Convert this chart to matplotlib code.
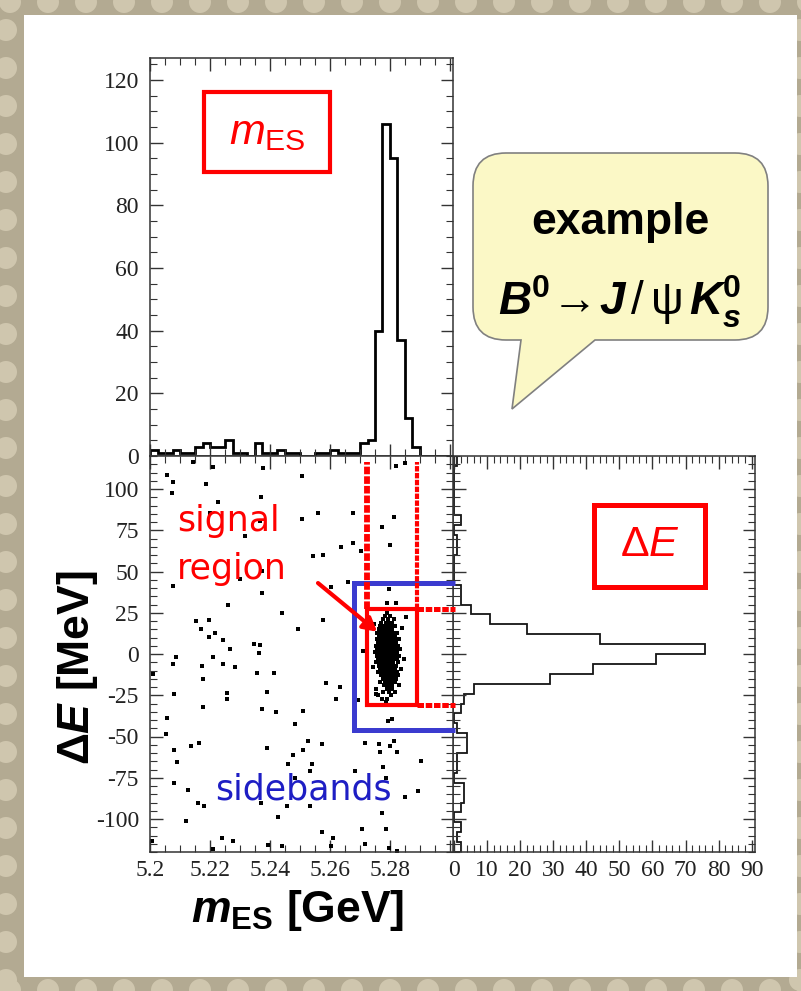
#!/usr/bin/env python3
"""
B0 -> J/psi K0s  :  mES / Delta E  selection slide
Top: mES histogram, bottom-left: Delta E vs mES scatter,
bottom-right: Delta E histogram.  Saves out.png (801 x 991 px).
"""

import numpy as np
import matplotlib
matplotlib.use("Agg")
import matplotlib.pyplot as plt
import matplotlib.ticker as ticker
from matplotlib.path import Path
from matplotlib.patches import PathPatch, Rectangle, Circle

# ── Canvas (pixels) ───────────────────────────────────────────────────────────
W, H = 801, 991

# ── Colours ───────────────────────────────────────────────────────────────────
C_RED    = "#ff0000"
C_BLUE   = "#3b3bcf"
C_BLUE_T = "#1e1ec4"
C_BEIGE  = "#b3aa92"
C_SPOT   = "#cfc6ae"
C_BUBBLE = "#fbf8c6"

# ── mES histogram: 40 bins 5.20 - 5.30 GeV ────────────────────────────────────
MES_RANGE = (5.2, 5.3)
MES_COUNTS = [2, 1, 1, 2, 1, 1, 3, 4, 3, 3,
              5, 1, 1, 0, 4, 1, 1, 2, 1, 1,
              0, 0, 1, 1, 2, 1, 1, 1, 4, 5,
              40, 106, 95, 37, 12, 3, 0, 0, 0, 0]

# ── Delta E histogram: 40 bins -120 - 120 MeV ─────────────────────────────────
DE_RANGE = (-120, 120)
DE_COUNTS = [2, 1, 2, 0, 2, 3, 3, 0, 1, 1,
             4, 4, 1, 0, 2, 3, 6, 29, 42, 61,
             76, 44, 22, 11, 5, 2, 2, 0, 0, 0,
             1, 1, 0, 2, 0, 0, 0, 0, 0, 1]

# ── Scatter: background (sideband) candidates ─────────────────────────────────
BG_M = [5.2144, 5.2211, 5.2378, 5.2056, 5.2076, 5.2187, 5.2506, 5.2072, 5.2370,
        5.2228, 5.2200, 5.2367, 5.2506, 5.2317, 5.2372, 5.2300, 5.2076, 5.2373,
        5.2261, 5.2439, 5.2153, 5.2198, 5.2170, 5.2217, 5.2494, 5.2198, 5.2244,
        5.2347, 5.2367, 5.2267, 5.2364,
        5.2850, 5.2820, 5.2676, 5.2561, 5.2814, 5.2772, 5.2678, 5.2800, 5.2636,
        5.2576, 5.2544, 5.2703, 5.2603, 5.2661, 5.2798, 5.2820, 5.2789, 5.2578,
        5.2853, 5.2711,
        5.2087, 5.2211, 5.2076, 5.2172, 5.2244, 5.2283, 5.2011, 5.2356, 5.2413,
        5.2178, 5.2080, 5.2256, 5.2258, 5.2389, 5.2176, 5.2372, 5.2420, 5.2509,
        5.2056, 5.2483, 5.2053, 5.2164, 5.2136, 5.2080, 5.2389, 5.2478, 5.2511,
        5.2089, 5.2461, 5.2483, 5.2080, 5.2128, 5.2161, 5.2180, 5.2370, 5.2456,
        5.2428, 5.2120, 5.2239, 5.2278, 5.2006, 5.2211, 5.2394, 5.2439,
        5.2587, 5.2633, 5.2620, 5.2694, 5.2794, 5.2806, 5.2528, 5.2572, 5.2717,
        5.2764, 5.2800, 5.2814, 5.2767, 5.2822, 5.2539, 5.2533, 5.2683, 5.2776,
        5.2902, 5.2787, 5.2850, 5.2894, 5.2533, 5.2772, 5.2572, 5.2706, 5.2787,
        5.2611, 5.2602, 5.2717, 5.2798, 5.2822]
BG_DE = [116.4, 113.4, 112.6, 108.2, 104.1, 103.1, 108.0, 97.6, 95.2,
         92.0, 85.2, 80.5, 82.1, 71.8, 50.2, 45.2, 41.2, 37.1,
         29.8, 25.0, 20.2, 20.8, 14.9, 12.5, 14.9, 10.3, 8.5,
         6.3, 5.2, 2.8, 0.4,
         115.8, 113.8, 85.5, 85.2, 82.9, 76.9, 67.4, 65.8, 64.8,
         59.7, 59.3, 62.2, 40.6, 43.6, 39.1, 31.1, 31.1, 20.4,
         22.4, 1.8,
         -2.0, -2.0, -6.1, -7.1, -6.1, -8.1, -12.1, -11.3, -11.7,
         -15.1, -24.2, -23.4, -27.2, -23.2, -31.9, -33.5, -35.1, -34.3,
         -38.9, -42.6, -48.6, -54.1, -55.5, -58.1, -56.7, -61.1, -58.1,
         -65.6, -66.6, -75.3, -78.3, -82.3, -90.4, -92.0, -90.4, -92.4,
         -98.5, -101.5, -111.8, -113.4, -113.6, -118.2, -115.6, -116.6,
         -17.8, -20.2, -27.2, -27.8, -40.4, -39.4, -52.5, -54.7, -54.1,
         -54.5, -55.5, -52.5, -59.1, -59.1, -66.6, -71.2, -71.2, -68.6,
         -64.6, -75.3, -86.4, -83.3, -92.0, -96.1, -107.6, -105.9, -105.9,
         -111.6, -116.6, -115.2, -117.6, -119.6]

# ── Scatter: signal cluster, read row by row (Delta E level -> mES values) ───
SIG_DE_LEVELS = [25, 23, 21, 19, 17, 15, 13, 11, 9, 7, 5, 3, 1, -1, -3, -5,
                 -7, -9, -11, -13, -15, -17, -19, -21, -23, -25, -27]
SIG_M_ROWS = [
    [5.2790],
    [5.2782, 5.2801],
    [5.2776, 5.2793, 5.2812],
    [5.2771, 5.2786, 5.2798, 5.2808],
    [5.2768, 5.2779, 5.2790, 5.2803, 5.2818],
    [5.2763, 5.2774, 5.2784, 5.2795, 5.2806],
    [5.2758, 5.2770, 5.2781, 5.2789, 5.2799, 5.2811, 5.2825],
    [5.2762, 5.2772, 5.2779, 5.2787, 5.2794, 5.2803, 5.2815],
    [5.2755, 5.2767, 5.2776, 5.2783, 5.2790, 5.2797, 5.2806, 5.2818, 5.2830],
    [5.2760, 5.2771, 5.2778, 5.2785, 5.2792, 5.2800, 5.2809, 5.2821],
    [5.2752, 5.2764, 5.2773, 5.2780, 5.2787, 5.2793, 5.2799, 5.2806, 5.2814, 5.2827],
    [5.2758, 5.2768, 5.2776, 5.2783, 5.2789, 5.2795, 5.2802, 5.2810, 5.2819, 5.2833],
    [5.2750, 5.2762, 5.2771, 5.2779, 5.2786, 5.2792, 5.2798, 5.2805, 5.2813, 5.2824],
    [5.2756, 5.2766, 5.2774, 5.2782, 5.2788, 5.2795, 5.2801, 5.2808, 5.2817, 5.2829],
    [5.2761, 5.2770, 5.2778, 5.2785, 5.2791, 5.2797, 5.2804, 5.2812, 5.2822],
    [5.2754, 5.2767, 5.2775, 5.2783, 5.2790, 5.2796, 5.2803, 5.2811, 5.2826],
    [5.2763, 5.2772, 5.2780, 5.2788, 5.2794, 5.2801, 5.2809, 5.2819],
    [5.2768, 5.2777, 5.2786, 5.2793, 5.2799, 5.2807, 5.2816, 5.2835],
    [5.2760, 5.2773, 5.2782, 5.2791, 5.2798, 5.2805, 5.2814, 5.2823],
    [5.2770, 5.2780, 5.2789, 5.2797, 5.2804, 5.2812, 5.2828],
    [5.2776, 5.2787, 5.2795, 5.2803, 5.2811, 5.2820],
    [5.2766, 5.2784, 5.2793, 5.2801, 5.2810, 5.2817],
    [5.2781, 5.2791, 5.2800, 5.2808, 5.2830],
    [5.2754, 5.2789, 5.2798, 5.2806],
    [5.2778, 5.2796, 5.2815],
    [5.2759, 5.2802],
    [5.2772, 5.2790],
]
SIG_EXTRA_M  = [5.2748, 5.2840, 5.2745, 5.2845, 5.2752, 5.2785]
SIG_EXTRA_DE = [18, 16, -8, -3, -24, -29]

# ── Selection windows ─────────────────────────────────────────────────────────
SIG_M_WIN   = (5.2722, 5.2889)
SIG_DE_WIN  = (-31.0, 27.5)
SB_M_LEFT   = 5.2681
SB_DE_WIN   = (-46.0, 43.0)
M_OVERSHOOT = 5.3017      # lines run slightly past the panel edge


def px_rect(x0, y0, x1, y1):
    return [x0 / W, 1 - y1 / H, (x1 - x0) / W, (y1 - y0) / H]


def style_ax(ax):
    for sp in ax.spines.values():
        sp.set_color("#333333")
        sp.set_linewidth(1.1)
    ax.tick_params(which="both", direction="in", top=True, right=True,
                   colors="#333333", labelcolor="#222222", labelsize=17)
    ax.tick_params(which="major", length=9, width=1.0)
    ax.tick_params(which="minor", length=5, width=0.8)


plt.rcParams.update({
    "font.family"        : ["Liberation Serif", "DejaVu Serif"],
    "axes.unicode_minus" : False,
    "mathtext.fontset"   : "custom",
    "mathtext.rm"        : "Liberation Sans",
    "mathtext.it"        : "Liberation Sans:italic",
    "mathtext.bf"        : "Liberation Sans:bold",
    "mathtext.bfit"      : "Liberation Sans:italic:bold",
})

fig = plt.figure(figsize=(W / 100, H / 100), dpi=100)
fig.patch.set_facecolor(C_BEIGE)

# ── Slide background: beige dotted frame + white page ────────────────────────
bg = fig.add_axes([0, 0, 1, 1], zorder=-10)
bg.set_xlim(0, W)
bg.set_ylim(H, 0)
bg.axis("off")
for x in range(10, W + 20, 38):
    bg.add_patch(Circle((x, 2), 11, color=C_SPOT, lw=0))
    bg.add_patch(Circle((x, H - 1), 11, color=C_SPOT, lw=0))
for y in range(30, H, 38):
    bg.add_patch(Circle((6, y), 11, color=C_SPOT, lw=0))
    bg.add_patch(Circle((W - 1, y), 11, color=C_SPOT, lw=0))
bg.add_patch(Rectangle((24, 15), 773, 962, color="white", lw=0))

# ── Panels ────────────────────────────────────────────────────────────────────
ax_top = fig.add_axes(px_rect(150, 58, 453, 456), zorder=2)
ax_sc  = fig.add_axes(px_rect(150, 456, 453, 852), zorder=3)
ax_de  = fig.add_axes(px_rect(453, 456, 755, 852), zorder=2)
for ax in (ax_top, ax_sc, ax_de):
    style_ax(ax)

# top: mES histogram
mes_edges = np.linspace(MES_RANGE[0], MES_RANGE[1], len(MES_COUNTS) + 1)
ax_top.stairs(MES_COUNTS, mes_edges, color="black", linewidth=2.0)
ax_top.set_xlim(5.2, 5.301)
ax_top.set_ylim(0, 127)
ax_top.xaxis.set_major_locator(ticker.MultipleLocator(0.02))
ax_top.xaxis.set_minor_locator(ticker.MultipleLocator(0.005))
ax_top.yaxis.set_major_locator(ticker.MultipleLocator(20))
ax_top.yaxis.set_minor_locator(ticker.MultipleLocator(5))
ax_top.tick_params(labelbottom=False, pad=8)

# bottom-left: scatter
sig_m = np.concatenate([np.array(r) for r in SIG_M_ROWS] + [SIG_EXTRA_M])
sig_de = np.concatenate([np.full(len(r), d, dtype=float)
                         for r, d in zip(SIG_M_ROWS, SIG_DE_LEVELS)]
                        + [np.array(SIG_EXTRA_DE, dtype=float)])
ax_sc.scatter(BG_M, BG_DE, s=11, marker="s", color="black", linewidths=0,
              zorder=2)
ax_sc.scatter(sig_m, sig_de, s=10, marker="s", color="black", linewidths=0,
              zorder=2)
ax_sc.set_xlim(5.2, 5.301)
ax_sc.set_ylim(-120, 120)
ax_sc.xaxis.set_major_locator(ticker.MultipleLocator(0.02))
ax_sc.xaxis.set_minor_locator(ticker.MultipleLocator(0.005))
ax_sc.xaxis.set_major_formatter(ticker.FuncFormatter(
    lambda v, _: "" if v > 5.29 else f"{v:.2f}".rstrip("0")))
ax_sc.yaxis.set_major_locator(ticker.MultipleLocator(25))
ax_sc.yaxis.set_minor_locator(ticker.MultipleLocator(5))
ax_sc.tick_params(axis="y", pad=8)
ax_sc.tick_params(axis="x", pad=6)

# selection boxes
ax_sc.plot([M_OVERSHOOT, SB_M_LEFT, SB_M_LEFT, M_OVERSHOOT],
           [SB_DE_WIN[1], SB_DE_WIN[1], SB_DE_WIN[0], SB_DE_WIN[0]],
           color=C_BLUE, linewidth=3.6, solid_joinstyle="miter",
           solid_capstyle="butt", clip_on=False, zorder=4)
ax_sc.add_patch(Rectangle((SIG_M_WIN[0], SIG_DE_WIN[0]),
                          SIG_M_WIN[1] - SIG_M_WIN[0],
                          SIG_DE_WIN[1] - SIG_DE_WIN[0],
                          fill=False, edgecolor=C_RED, linewidth=3.0,
                          joinstyle="miter", zorder=5))
dots = (0, (1.3, 0.35))
ax_sc.plot([SIG_M_WIN[0]] * 2, [SIG_DE_WIN[1], 116.5], color=C_RED,
           linewidth=4.2, linestyle=dots, dash_capstyle="butt", zorder=5)
ax_sc.plot([SIG_M_WIN[1]] * 2, [SIG_DE_WIN[1], 116.5], color=C_RED,
           linewidth=3.0, linestyle=dots, dash_capstyle="butt", zorder=5)
for d in SIG_DE_WIN:
    ax_sc.plot([SIG_M_WIN[1], M_OVERSHOOT], [d, d], color=C_RED,
               linewidth=3.6, linestyle=dots, dash_capstyle="butt",
               clip_on=False, zorder=5)

ax_sc.annotate("", xy=(5.2757, 13.5), xytext=(5.2560, 43.0),
               arrowprops=dict(arrowstyle="-|>,head_length=0.8,head_width=0.45",
                               color=C_RED, lw=3.0, shrinkA=0, shrinkB=0),
               zorder=6)

# bottom-right: Delta E histogram
de_edges = np.linspace(DE_RANGE[0], DE_RANGE[1], len(DE_COUNTS) + 1)
ax_de.stairs(DE_COUNTS, de_edges, orientation="horizontal",
             color="#151515", linewidth=1.3)
ax_de.set_xlim(-0.3, 91)
ax_de.set_ylim(-120, 120)
ax_de.xaxis.set_major_locator(ticker.MultipleLocator(10))
ax_de.xaxis.set_minor_locator(ticker.MultipleLocator(2))
ax_de.yaxis.set_major_locator(ticker.MultipleLocator(25))
ax_de.yaxis.set_minor_locator(ticker.MultipleLocator(5))
ax_de.tick_params(labelleft=False)
ax_de.tick_params(axis="x", pad=6)

# ── Overlay in pixel coordinates: labels, boxes, callout ─────────────────────
ov = fig.add_axes([0, 0, 1, 1], zorder=10)
ov.set_xlim(0, W)
ov.set_ylim(H, 0)
ov.axis("off")
ov.patch.set_alpha(0)

ov.add_patch(Rectangle((204, 92), 126, 80, fill=False, edgecolor=C_RED,
                       linewidth=3.0))
ov.text(267, 134, r"$\mathit{m}_{\mathrm{ES}}$", color=C_RED, fontsize=31,
        ha="center", va="center")

ov.add_patch(Rectangle((594, 505), 111, 82, fill=False, edgecolor=C_RED,
                       linewidth=3.6))
ov.text(650, 546, r"$\Delta\mathit{E}$", color=C_RED, fontsize=31,
        ha="center", va="center")

ov.text(177, 531, "signal", color=C_RED, fontsize=25, family="DejaVu Sans",
        ha="left", va="baseline")
ov.text(177, 579, "region", color=C_RED, fontsize=25, family="DejaVu Sans",
        ha="left", va="baseline")
ov.text(303, 800, "sidebands", color=C_BLUE_T, fontsize=25,
        family="DejaVu Sans", ha="center", va="baseline")

ov.text(298, 922, r"$\mathbfit{m}_{\mathbf{ES}}$ [GeV]", fontsize=32,
        family="Liberation Sans", fontweight="bold", ha="center",
        va="baseline")
ov.text(77, 668, r"$\mathbf{\Delta}\mathbfit{E}$ [MeV]", fontsize=32,
        family="Liberation Sans", fontweight="bold", rotation=90,
        ha="center", va="center")

# speech bubble
x0, x1, y0, y1, r = 473, 768, 153, 340, 33
verts = [(x0 + r, y0), (x1 - r, y0), (x1, y0), (x1, y0 + r),
         (x1, y1 - r), (x1, y1), (x1 - r, y1),
         (595, y1), (512, 409), (521, y1),
         (x0 + r, y1), (x0, y1), (x0, y1 - r),
         (x0, y0 + r), (x0, y0), (x0 + r, y0), (x0 + r, y0)]
codes = [Path.MOVETO, Path.LINETO, Path.CURVE3, Path.CURVE3,
         Path.LINETO, Path.CURVE3, Path.CURVE3,
         Path.LINETO, Path.LINETO, Path.LINETO,
         Path.LINETO, Path.CURVE3, Path.CURVE3,
         Path.LINETO, Path.CURVE3, Path.CURVE3, Path.CLOSEPOLY]
ov.add_patch(PathPatch(Path(verts, codes), facecolor=C_BUBBLE,
                       edgecolor="#808080", linewidth=1.2))
ov.text(620, 234, "example", fontsize=32, family="Liberation Sans",
        fontweight="bold", ha="center", va="baseline")
ov.text(620, 316,
        r"$\mathbfit{B}^{\mathbf{0}}\!\rightarrow\!\mathbfit{J}\,/\,"
        r"\mathrm{\psi}\,\mathbfit{K}_{\mathbfit{s}}^{\mathbf{0}}$",
        fontsize=33, ha="center", va="baseline")

fig.savefig("out.png", dpi=100, facecolor=fig.get_facecolor())
print("Saved out.png")
